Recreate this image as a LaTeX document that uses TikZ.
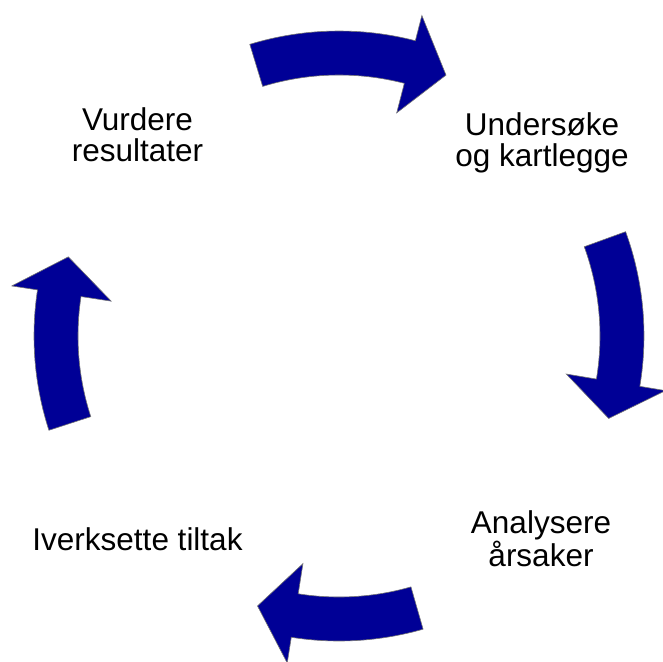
\documentclass[tikz,border=0pt]{standalone}
\usepackage{fontspec}
\setmainfont{Liberation Sans}
\usetikzlibrary{
    positioning,
    calc
}
\definecolor{cycleblue}{RGB}{0,0,150}

\begin{document}
\begin{tikzpicture}[
    x=1pt,
    y=1pt,
    cyclearrow/.style={
        fill=cycleblue,
        draw=black!55,
        line width=0.6pt,
        line join=miter,
    },
    steplabel/.style={
        align=center,
        inner sep=0pt,
        font=\fontsize{31.5}{31.5}\selectfont,
    },
]
    \useasboundingbox (0,0) rectangle (663,-661);

    \node[steplabel] (vurdere)   at (137.5,-134.5) {Vurdere\\resultater};
    \node[steplabel] (undersoke) at (542,-142.8)   {Undersøke\\og kartlegge};
    \node[steplabel] (analysere) at (541,-538.5)   {Analysere\\årsaker};
    \node[steplabel] (iverksette) at (137.5,-539.5) {Iverksette tiltak};

    \begin{scope}[shift={(339,-336)}]
        % top
        \path[cyclearrow] (107:305) arc[start angle=107, end angle=75.5, radius=305]
            -- (75.5:331) -- (67.7:282) -- (75.5:230.5) -- (75.5:261)
            arc[start angle=75.5, end angle=107, radius=261] -- cycle;
        % right
        \path[cyclearrow] (20:305) arc[start angle=20, end angle=-9.5, radius=305]
            -- (-9.5:331) -- (-17:282) -- (-9.5:230.5) -- (-9.5:261)
            arc[start angle=-9.5, end angle=20, radius=261] -- cycle;
        % bottom
        \path[cyclearrow] (286:305) arc[start angle=286, end angle=261, radius=305]
            -- (261:331) -- (253.2:282) -- (261:230.5) -- (261:261)
            arc[start angle=261, end angle=286, radius=261] -- cycle;
        % left
        \path[cyclearrow] (198:305) arc[start angle=198, end angle=171.3, radius=305]
            -- (171.3:331) -- (163.7:282) -- (171.3:230.5) -- (171.3:261)
            arc[start angle=171.3, end angle=198, radius=261] -- cycle;
    \end{scope}

\end{tikzpicture}
\end{document}
